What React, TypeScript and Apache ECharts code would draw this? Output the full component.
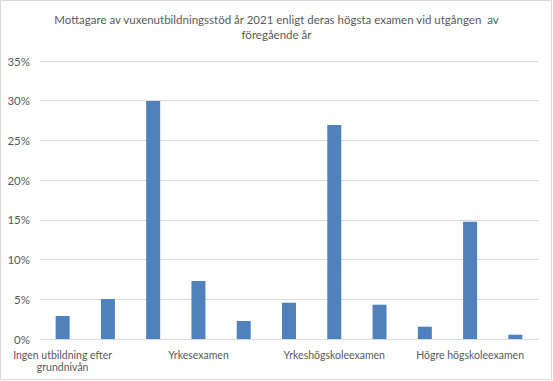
import React, { useEffect, useRef } from "react";
import * as echarts from "echarts";

const titleText = "Mottagare av vuxenutbildningsstöd år 2021 enligt deras högsta examen vid utgången  av\nföregående år";
const categories = [
  "Ingen utbildning efter\ngrundnivån", "", "",
  "Yrkesexamen", "", "",
  "Yrkeshögskoleexamen", "", "",
  "Högre högskoleexamen", "",
];
const values = [2.9, 5.03, 29.95, 7.3, 2.27, 4.57, 26.95, 4.32, 1.55, 14.75, 0.54];
const yTicks = { min: 0, max: 35, interval: 5 };

export default function App() {
  const ref = useRef<HTMLDivElement>(null);
  useEffect(() => {
    document.body.style.margin = "0";
    const chart = echarts.init(ref.current!, null, { renderer: "svg" });
    const font = "Lato, 'Noto Sans', sans-serif";
    chart.setOption({
      animation: false,
      backgroundColor: "#ffffff",
      textStyle: { fontFamily: font },
      title: {
        text: titleText,
        left: "center",
        top: 7,
        textStyle: { fontFamily: font, fontSize: 11.5, fontWeight: "normal", color: "#595959", lineHeight: 15 },
      },
      graphic: [
        {
          type: "rect",
          shape: { x: 0.5, y: 0.5, width: 551, height: 379 },
          style: { fill: "none", stroke: "#d9d9d9", lineWidth: 1 },
          silent: true,
        },
      ],
      grid: { left: 40, right: 15, top: 61, bottom: 42 },
      xAxis: {
        type: "category",
        data: categories,
        axisTick: { show: false },
        axisLine: { lineStyle: { color: "#d9d9d9" } },
        axisLabel: { interval: 0, color: "#595959", fontSize: 10.5, margin: 10, lineHeight: 12, fontFamily: font },
      },
      yAxis: {
        type: "value",
        min: yTicks.min,
        max: yTicks.max,
        interval: yTicks.interval,
        axisLine: { show: false },
        axisTick: { show: false },
        splitLine: { lineStyle: { color: "#d9d9d9" } },
        axisLabel: { formatter: "{value}%", color: "#595959", fontSize: 11.5, margin: 10, fontFamily: font },
      },
      series: [
        {
          type: "bar",
          data: values,
          barWidth: 14,
          itemStyle: { color: "#4f81bd" },
        },
      ],
    });
    return () => chart.dispose();
  }, []);
  return <div ref={ref} style={{ width: 553, height: 381 }} />;
}
